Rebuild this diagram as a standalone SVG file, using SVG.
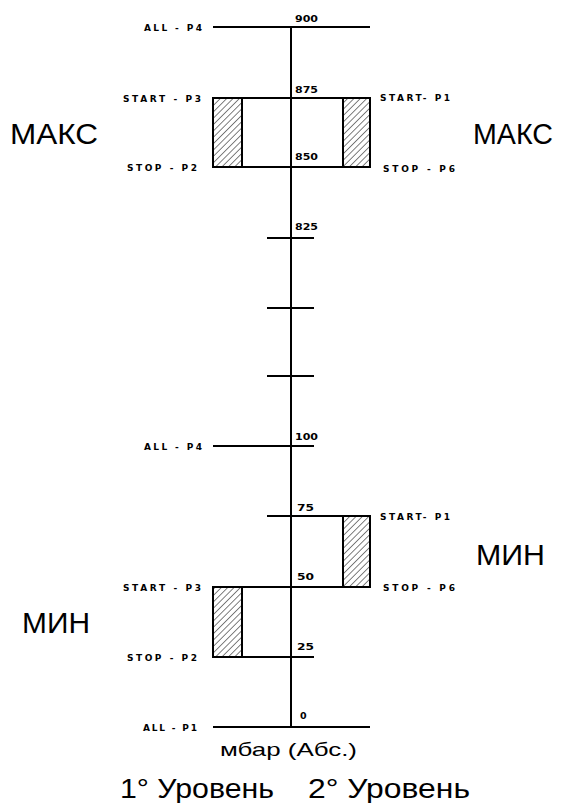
<svg xmlns="http://www.w3.org/2000/svg" width="563" height="803" viewBox="0 0 563 803">
<style>
.ln{stroke:#000;stroke-width:2;fill:none}
.sm{font-family:"DejaVu Sans",sans-serif;font-weight:bold;font-size:9px;fill:#000}
.num{font-family:"DejaVu Sans",sans-serif;font-weight:bold;font-size:9.5px;fill:#000}
.big{font-family:"Liberation Sans",Arial,sans-serif;font-size:29px;fill:#000}
.mid{font-family:"Liberation Sans",Arial,sans-serif;font-size:19px;fill:#000}
.lvl{font-family:"Liberation Sans",Arial,sans-serif;font-size:27px;fill:#000}
.hatch{fill:url(#h);stroke:#000;stroke-width:2}
</style>
<defs>
<pattern id="h" width="4.5" height="4.5" patternUnits="userSpaceOnUse" patternTransform="rotate(45)">
<rect width="4.5" height="4.5" fill="#fff"/>
<line x1="0" y1="0" x2="0" y2="4.5" stroke="#000" stroke-width="1"/>
</pattern>
</defs>
<rect width="563" height="803" fill="#fff"/>
<g id="connectors">
<line class="ln" x1="291" y1="27" x2="291" y2="727"/>
<line class="ln" x1="213" y1="27" x2="370" y2="27"/>
<line class="ln" x1="267" y1="238" x2="314" y2="238"/>
<line class="ln" x1="267" y1="308" x2="314" y2="308"/>
<line class="ln" x1="267" y1="376" x2="314" y2="376"/>
<line class="ln" x1="213" y1="446" x2="314" y2="446"/>
<line class="ln" x1="267" y1="516" x2="370" y2="516"/>
<line class="ln" x1="213" y1="587" x2="370" y2="587"/>
<line class="ln" x1="213" y1="657" x2="314" y2="657"/>
<line class="ln" x1="213" y1="727" x2="370" y2="727"/>
</g>
<g id="max-box">
<rect x="213" y="98" width="157" height="69" fill="none" stroke="#000" stroke-width="2"/>
<rect class="hatch" x="213" y="98" width="29" height="69"/>
<rect class="hatch" x="343" y="98" width="27" height="69"/>
</g>
<g id="min-box-2">
<rect x="291" y="516" width="79" height="71" fill="none" stroke="#000" stroke-width="2"/>
<rect class="hatch" x="343" y="516" width="27" height="71"/>
</g>
<g id="min-box-1">
<rect x="213" y="587" width="78" height="70" fill="none" stroke="#000" stroke-width="2"/>
<rect class="hatch" x="213" y="587" width="29" height="70"/>
</g>
<g id="scale">
<text class="num" x="295" y="22" textLength="23" lengthAdjust="spacingAndGlyphs">900</text>
<text class="num" x="295" y="93" textLength="23" lengthAdjust="spacingAndGlyphs">875</text>
<text class="num" x="295" y="160" textLength="23" lengthAdjust="spacingAndGlyphs">850</text>
<text class="num" x="295" y="230" textLength="23" lengthAdjust="spacingAndGlyphs">825</text>
<text class="num" x="295" y="440" textLength="23" lengthAdjust="spacingAndGlyphs">100</text>
<text class="num" x="297" y="511" textLength="17" lengthAdjust="spacingAndGlyphs">75</text>
<text class="num" x="297" y="580" textLength="17" lengthAdjust="spacingAndGlyphs">50</text>
<text class="num" x="297" y="650" textLength="17" lengthAdjust="spacingAndGlyphs">25</text>
<text class="num" x="300" y="719">0</text>
</g>
<g id="labels-left">
<text class="sm" x="144" y="31" textLength="58" lengthAdjust="spacing">ALL - P4</text>
<text class="sm" x="123" y="102" textLength="78" lengthAdjust="spacing">START - P3</text>
<text class="sm" x="127" y="171" textLength="70" lengthAdjust="spacing">STOP - P2</text>
<text class="sm" x="144" y="450" textLength="58" lengthAdjust="spacing">ALL - P4</text>
<text class="sm" x="123" y="591" textLength="78" lengthAdjust="spacing">START - P3</text>
<text class="sm" x="127" y="661" textLength="70" lengthAdjust="spacing">STOP - P2</text>
<text class="sm" x="143" y="731" textLength="54" lengthAdjust="spacing">ALL - P1</text>
</g>
<g id="labels-right">
<text class="sm" x="380" y="101" textLength="70" lengthAdjust="spacing">START- P1</text>
<text class="sm" x="383" y="172" textLength="72" lengthAdjust="spacing">STOP - P6</text>
<text class="sm" x="380" y="520" textLength="70" lengthAdjust="spacing">START- P1</text>
<text class="sm" x="383" y="591" textLength="72" lengthAdjust="spacing">STOP - P6</text>
</g>
<g id="zones">
<text class="big" x="10" y="144" textLength="88" lengthAdjust="spacingAndGlyphs">МАКС</text>
<text class="big" x="473" y="144" textLength="80" lengthAdjust="spacingAndGlyphs">МАКС</text>
<text class="big" x="476" y="565" textLength="69" lengthAdjust="spacingAndGlyphs">МИН</text>
<text class="big" x="22" y="633" textLength="68" lengthAdjust="spacingAndGlyphs">МИН</text>
</g>
<g id="footer">
<text class="mid" x="220" y="756" textLength="137" lengthAdjust="spacingAndGlyphs">мбар (Абс.)</text>
<text class="lvl" x="120" y="798" textLength="154" lengthAdjust="spacingAndGlyphs">1° Уровень</text>
<text class="lvl" x="308" y="798" textLength="162" lengthAdjust="spacingAndGlyphs">2° Уровень</text>
</g>
</svg>
